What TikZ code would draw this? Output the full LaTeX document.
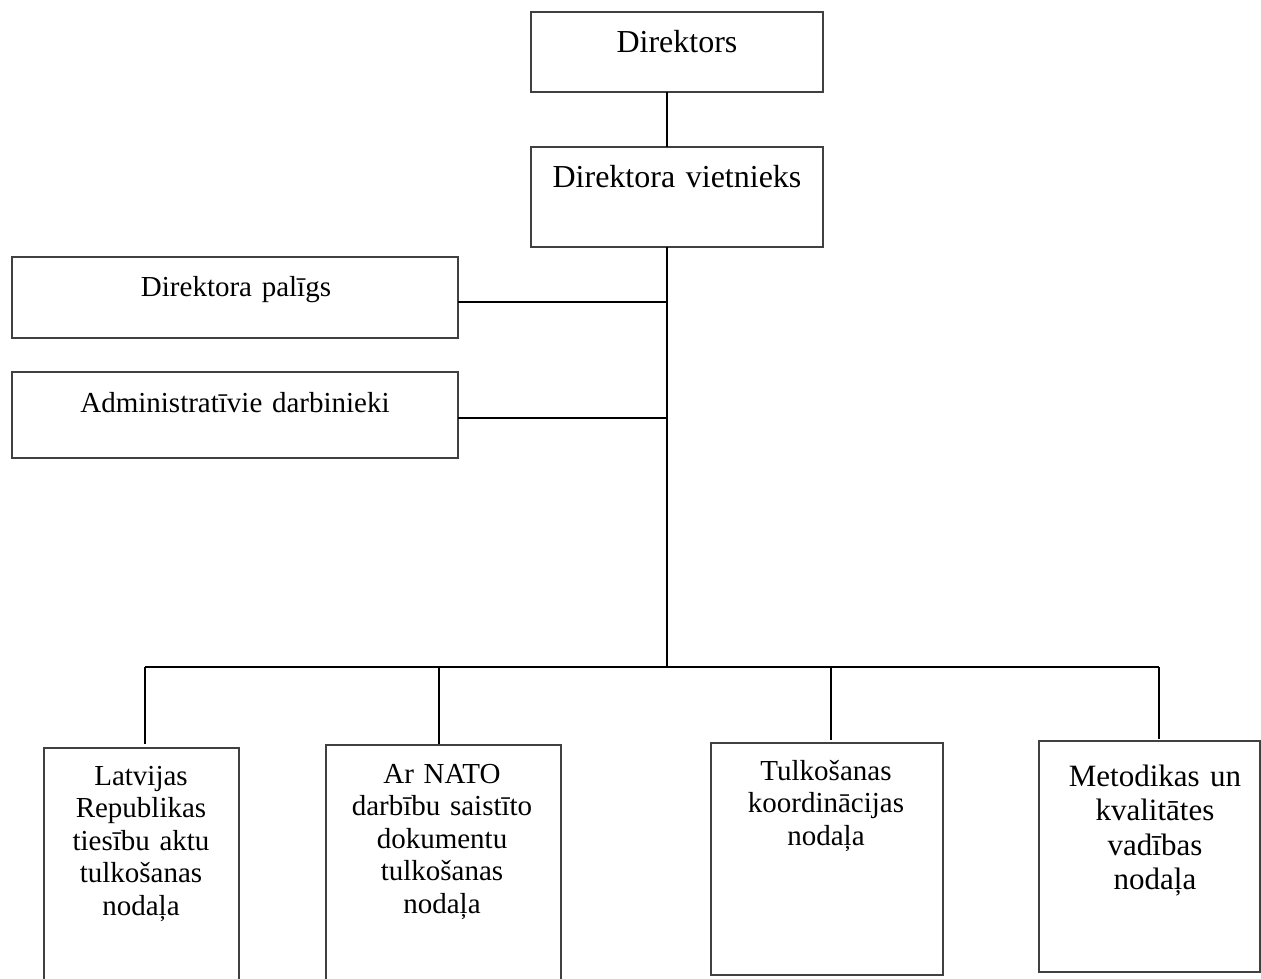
\documentclass[tikz,border=0pt]{standalone}
\usepackage{fontspec}
\setmainfont{Liberation Serif}
\begin{document}
\begin{tikzpicture}[x=1pt,y=-1pt,
  box/.style={draw=black!75, line width=1.1pt, rectangle, inner sep=0pt, outer sep=0pt, anchor=north west},
  wire/.style={draw=black, line width=2pt},
  lbl/.style={anchor=base, inner sep=0pt, align=center, text width=400pt},
  big/.style={font=\fontsize{32}{35}\selectfont},
  mid/.style={font=\fontsize{29}{32.5}\selectfont}]
\useasboundingbox (0,0) rectangle (1261,978);
% boxes
\node[box, minimum width=292pt, minimum height=80pt] (dir) at (531,12) {};
\node[box, minimum width=292pt, minimum height=100pt] (vice) at (531,147) {};
\node[box, minimum width=446pt, minimum height=81pt] (asst) at (12,257) {};
\node[box, minimum width=446pt, minimum height=86pt] (adm) at (12,372) {};
\node[box, minimum width=195pt, minimum height=260pt] (d1) at (44,748) {};
\node[box, minimum width=235pt, minimum height=260pt] (d2) at (326,745) {};
\node[box, minimum width=232pt, minimum height=232pt] (d3) at (711,743) {};
\node[box, minimum width=221pt, minimum height=231pt] (d4) at (1039,741) {};
% junction coordinates
\coordinate (jt) at (667,247);
\coordinate (b1) at (145,667);
\coordinate (b2) at (439,667);
\coordinate (bc) at (667,667);
\coordinate (b3) at (831,667);
\coordinate (b4) at (1159,667);
% connectors
\draw[wire] (dir.south -| jt) -- (vice.north -| jt);
\draw[wire] (vice.south -| jt) -- (bc);
\draw[wire] ([yshift=-4.5pt]asst.east) -- ([yshift=-4.5pt]asst.east -| jt);
\draw[wire] ([yshift=-3pt]adm.east) -- ([yshift=-3pt]adm.east -| jt);
\draw[wire] (b1) -- (b4);
\draw[wire, shorten >=4pt] (b1) -- (b1 |- d1.north);
\draw[wire, shorten >=1pt] (b2) -- (b2 |- d2.north);
\draw[wire, shorten >=3pt] (b3) -- (b3 |- d3.north);
\draw[wire, shorten >=2pt] (b4) -- (b4 |- d4.north);
% texts
\node[lbl,big] (dirT) at (677,52) {Direktors};
\node[lbl,big] (viceT) at (677,187) {Direktora vietnieks};
\node[lbl,mid] (asstT) at (236,296) {Direktora palīgs};
\node[lbl,mid] (admT) at (235,412) {Administratīvie darbinieki};
\node[lbl,mid] (d1T) at (141,785) {Latvijas\\Republikas\\tiesību aktu\\tulkošanas\\nodaļa};
\node[lbl,mid] (d2T) at (442,783) {Ar NATO\\darbību saistīto\\dokumentu\\tulkošanas\\nodaļa};
\node[lbl,mid] (d3T) at (826,780) {Tulkošanas\\koordinācijas\\nodaļa};
\node[lbl,font=\fontsize{31}{34.5}\selectfont] (d4T) at (1155,786) {Metodikas un\\kvalitātes\\vadības\\nodaļa};
\end{tikzpicture}
\end{document}
